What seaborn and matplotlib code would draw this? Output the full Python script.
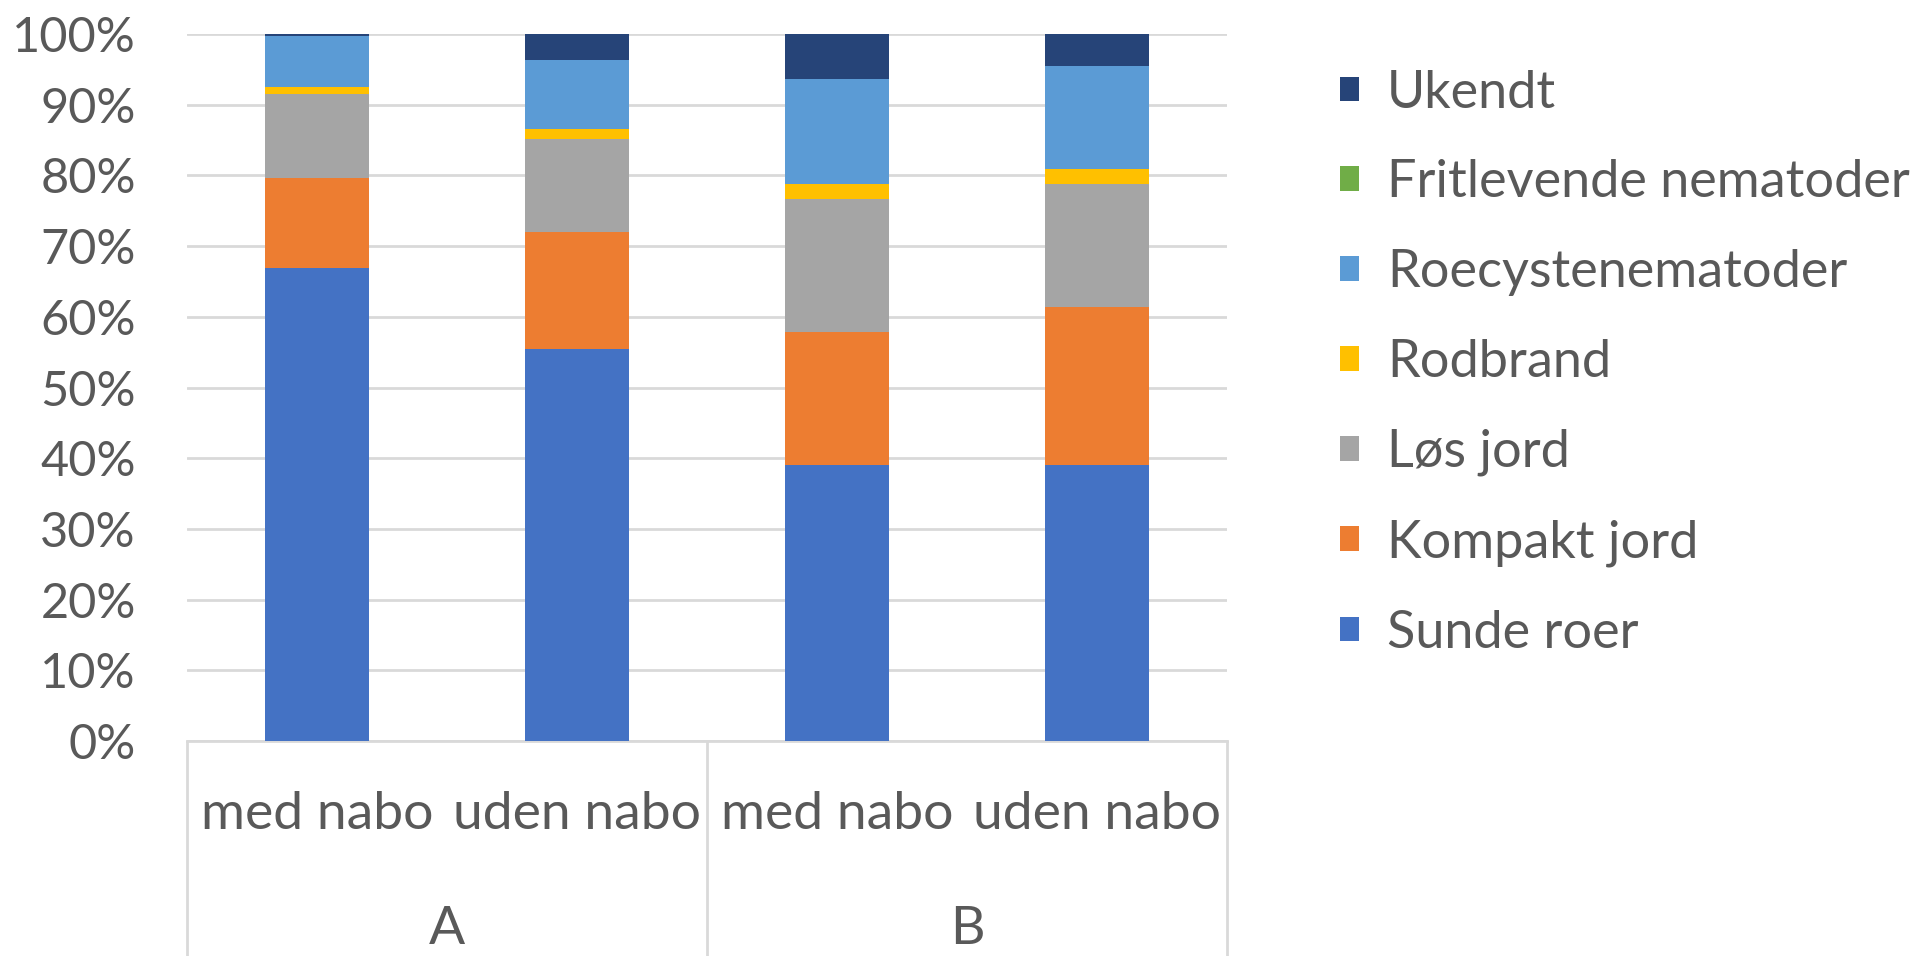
import matplotlib.pyplot as plt
import matplotlib.transforms as mtransforms
from matplotlib.patches import Patch
import numpy as np
import pandas as pd
import seaborn as sns

# categories
groups = ['A', 'A', 'B', 'B']
subgroups = ['med nabo', 'uden nabo', 'med nabo', 'uden nabo']

# series values (% of roots), bottom to top
sunde_roer = [66.9, 55.4, 39.1, 39.1]
kompakt_jord = [12.8, 16.6, 18.8, 22.3]
los_jord = [11.8, 13.2, 18.8, 17.4]
rodbrand = [1.0, 1.3, 2.1, 2.1]
roecystenematoder = [7.2, 9.8, 14.9, 14.6]
fritlevende_nematoder = [0.0, 0.0, 0.0, 0.0]
ukendt = [0.3, 3.7, 6.3, 4.5]

series_names = ['Sunde roer', 'Kompakt jord', 'Løs jord', 'Rodbrand',
                'Roecystenematoder', 'Fritlevende nematoder', 'Ukendt']
series_values = [sunde_roer, kompakt_jord, los_jord, rodbrand,
                 roecystenematoder, fritlevende_nematoder, ukendt]
colors = ['#4472C4', '#ED7D31', '#A5A5A5', '#FFC000',
          '#5B9BD5', '#70AD47', '#264478']

sns.set_style('white')
plt.rcParams['font.family'] = ['Lato', 'DejaVu Sans']

fig = plt.figure(figsize=(19.15, 9.56), dpi=100)
ax = fig.add_axes([0.0977, 0.2249, 0.5430, 0.7395])

# stacked bars: draw cumulative totals, tallest first
xpos = [f'{g} {s}' for g, s in zip(groups, subgroups)]
cumulative = np.cumsum(np.array(series_values), axis=0)
for i in range(len(series_names) - 1, -1, -1):
    df = pd.DataFrame({'x': xpos, 'y': cumulative[i]})
    sns.barplot(data=df, x='x', y='y', color=colors[i], width=0.4,
                saturation=1, edgecolor='none', ax=ax, zorder=3)

ax.set_ylim(0, 100)
ax.set_xlim(-0.5, 3.5)
ax.set_yticks(range(0, 101, 10))
ax.set_yticklabels([f'{v}%' for v in range(0, 101, 10)],
                   fontsize=35, color='#595959')
ax.tick_params(axis='y', length=0, pad=37)
ax.yaxis.grid(True, color='#D9D9D9', linewidth=2, zorder=0)
ax.set_axisbelow(True)
ax.set_xlabel('')
ax.set_ylabel('')
for s in ['top', 'right', 'left']:
    ax.spines[s].set_visible(False)
ax.spines['bottom'].set_color('#D9D9D9')
ax.spines['bottom'].set_linewidth(2)

# two-level category axis
ax.set_xticks(range(4))
ax.set_xticklabels(subgroups, fontsize=38.5, color='#595959')
ax.tick_params(axis='x', length=0, pad=36)
trans = mtransforms.blended_transform_factory(ax.transData, ax.transAxes)
for xs in [-0.5, 1.5, 3.5]:
    ax.plot([xs, xs], [0, -0.31], color='#D9D9D9', linewidth=2,
            transform=trans, clip_on=False)
for label, xc in [('A', 0.5), ('B', 2.5)]:
    ax.text(xc, -0.266, label, transform=trans, ha='center', va='center',
            fontsize=38.5, color='#595959')

handles = [Patch(facecolor=c, edgecolor='none') for c in colors]
fig.legend(handles[::-1], series_names[::-1], loc='upper left',
           bbox_to_anchor=(0.689, 0.949), frameon=False, fontsize=37.6,
           labelcolor='#595959', handlelength=0.35, handleheight=0.35,
           handletextpad=0.54, labelspacing=0.82, borderaxespad=0)

fig.savefig('out.png', dpi=100)
